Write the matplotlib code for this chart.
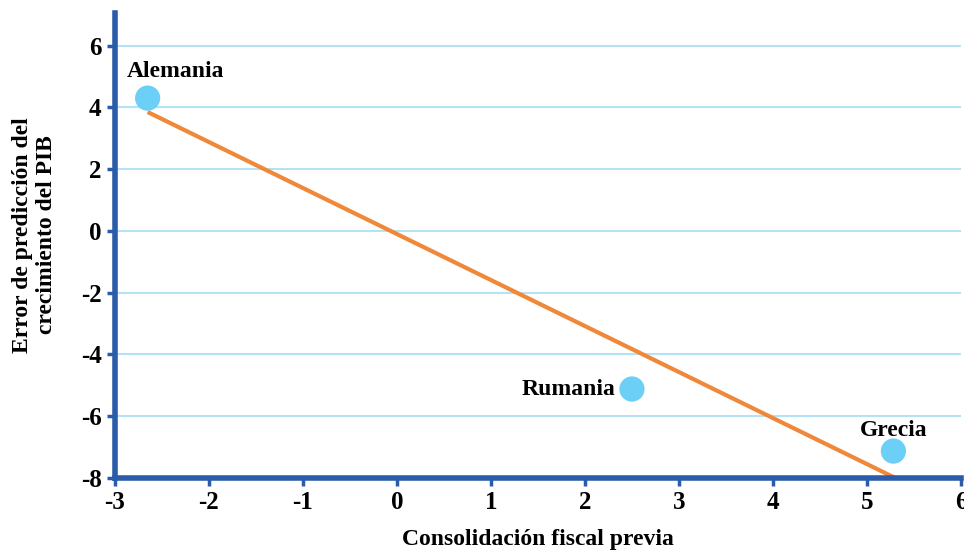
import matplotlib.pyplot as plt
from matplotlib.ticker import FuncFormatter

# data
countries = ["Alemania", "Rumania", "Grecia"]
consolidation = [-2.65, 2.50, 5.28]
forecast_error = [4.30, -5.12, -7.13]

# fitted line endpoints
fit_x = [-2.65, 5.30]
fit_y = [3.85, -8.0]

x_ticks = [-3, -2, -1, 0, 1, 2, 3, 4, 5, 6]
y_ticks = [-8, -6, -4, -2, 0, 2, 4, 6]

blue = "#2a5caa"
plt.rcParams["font.family"] = ["Liberation Serif", "DejaVu Serif"]
plt.rcParams["font.weight"] = "bold"
plt.rcParams["axes.unicode_minus"] = False

fig = plt.figure(figsize=(9.64, 5.5), dpi=100)
ax = fig.add_axes([0.119, 0.131, 0.878, 0.845])

for y in y_ticks:
    if y != -8:
        ax.axhline(y, color="#b5e3f6", lw=1.5, zorder=1)

ax.plot(fit_x, fit_y, color="#f0883a", lw=3, solid_capstyle="butt", zorder=2)
ax.scatter(consolidation, forecast_error, s=330, color="#6ccff6", zorder=3,
           edgecolors="none")

# labels next to points (offsets in points)
offsets = {"Alemania": (20, 19, "center", "center"),
           "Rumania": (-12, 0, "right", "center"),
           "Grecia": (0, 15, "center", "center")}
for name, x, y in zip(countries, consolidation, forecast_error):
    dx, dy, ha, va = offsets[name]
    ax.annotate(name, (x, y), xytext=(dx, dy), textcoords="offset points",
                ha=ha, va=va, fontsize=17, fontweight="bold")

ax.set_xlim(-3, 6)
ax.set_ylim(-8, 7.05)
ax.set_xticks(x_ticks)
ax.set_yticks(y_ticks)
fmt = FuncFormatter(lambda v, p: "%d" % v)
ax.xaxis.set_major_formatter(fmt)
ax.yaxis.set_major_formatter(fmt)

for side in ["top", "right"]:
    ax.spines[side].set_visible(False)
for side in ["left", "bottom"]:
    ax.spines[side].set_color(blue)
    ax.spines[side].set_linewidth(4)
ax.tick_params(colors=blue, width=2.5, length=6, labelsize=18,
               labelcolor="black")
for lbl in ax.get_xticklabels() + ax.get_yticklabels():
    lbl.set_fontweight("bold")

ax.set_xlabel("Consolidación fiscal previa", fontsize=17, fontweight="bold")
ax.set_ylabel("Error de predicción del\ncrecimiento del PIB", fontsize=17,
              fontweight="bold")
ax.xaxis.set_label_coords(0.5, -0.11)
ax.yaxis.set_label_coords(-0.068, 0.523)

fig.savefig("out.png", dpi=100)
